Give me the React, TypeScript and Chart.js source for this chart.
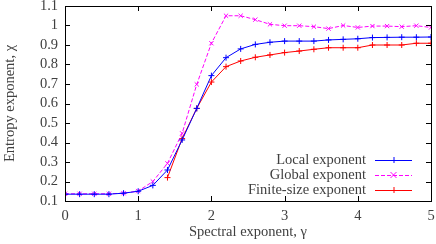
import React, { useEffect, useRef } from "react";
import { Chart, registerables } from "chart.js";

Chart.register(...registerables);

const gammas = [0, 0.2, 0.4, 0.6, 0.8, 1.0, 1.2, 1.4, 1.6, 1.8, 2.0, 2.2, 2.4, 2.6, 2.8, 3.0, 3.2, 3.4, 3.6, 3.8, 4.0, 4.2, 4.4, 4.6, 4.8, 5.0];
const localExp = [0.135, 0.135, 0.135, 0.135, 0.14, 0.15, 0.18, 0.259, 0.413, 0.575, 0.743, 0.835, 0.88, 0.903, 0.914, 0.92, 0.92, 0.92, 0.926, 0.929, 0.932, 0.938, 0.939, 0.94, 0.94, 0.941];
const globalExp = [0.137, 0.137, 0.137, 0.137, 0.14, 0.151, 0.2, 0.293, 0.447, 0.698, 0.909, 1.05, 1.05, 1.03, 1.006, 0.999, 0.999, 0.994, 0.984, 1.0, 0.99, 0.997, 0.997, 0.994, 0.999, 0.99];
const finiteGammas = [1.4, 1.6, 1.8, 2.0, 2.2, 2.4, 2.6, 2.8, 3.0, 3.2, 3.4, 3.6, 3.8, 4.0, 4.2, 4.4, 4.6, 4.8, 5.0];
const finiteExp = [0.22, 0.42, 0.575, 0.71, 0.789, 0.818, 0.837, 0.849, 0.861, 0.869, 0.878, 0.886, 0.886, 0.886, 0.9, 0.9, 0.9, 0.909, 0.909];
const xTicks = [0, 1, 2, 3, 4, 5];
const yTicks = [0.1, 0.2, 0.3, 0.4, 0.5, 0.6, 0.7, 0.8, 0.9, 1, 1.1];

const FONT = "'Liberation Serif', serif";
const TEXT = "#404040";
const FS = 14.5;

const frameAndLegend = {
  id: "frameAndLegend",
  afterDraw(chart: any) {
    const { ctx, chartArea: a, scales } = chart;
    ctx.save();
    ctx.strokeStyle = "#000";
    ctx.lineWidth = 1;
    const tl = 5;
    ctx.beginPath();
    for (const v of xTicks) {
      const x = Math.round(scales.x.getPixelForValue(v)) + 0.5;
      ctx.moveTo(x, a.bottom); ctx.lineTo(x, a.bottom - tl);
      ctx.moveTo(x, a.top); ctx.lineTo(x, a.top + tl);
    }
    for (const v of yTicks) {
      const y = Math.round(scales.y.getPixelForValue(v)) + 0.5;
      ctx.moveTo(a.left, y); ctx.lineTo(a.left + tl, y);
      ctx.moveTo(a.right, y); ctx.lineTo(a.right - tl, y);
    }
    ctx.stroke();
    ctx.strokeRect(Math.round(a.left) + 0.5, Math.round(a.top) + 0.5, Math.round(a.right - a.left), Math.round(a.bottom - a.top));

    // legend (inside, bottom right)
    ctx.font = FS + "px " + FONT;
    ctx.textAlign = "right";
    ctx.textBaseline = "middle";
    const rowH = 15;
    const lineR = a.right - 19;
    const lineL = lineR - 37;
    const textR = lineL - 9;
    const baseY = a.bottom - 11;
    const ds = chart.data.datasets;
    ds.forEach((d: any, i: number) => {
      const y = baseY - (ds.length - 1 - i) * rowH;
      ctx.fillStyle = TEXT;
      ctx.fillText(d.label, textR, y);
      ctx.strokeStyle = d.borderColor;
      ctx.lineWidth = 1;
      ctx.setLineDash(d.borderDash || []);
      ctx.beginPath();
      ctx.moveTo(lineL, y + 0.5); ctx.lineTo(lineR, y + 0.5);
      ctx.stroke();
      ctx.setLineDash([]);
      const mx = (lineL + lineR) / 2;
      const r = 3;
      ctx.beginPath();
      if (d.pointStyle === "crossRot") {
        ctx.moveTo(mx - r, y - r); ctx.lineTo(mx + r, y + r);
        ctx.moveTo(mx + r, y - r); ctx.lineTo(mx - r, y + r);
      } else {
        ctx.moveTo(mx - r, y + 0.5); ctx.lineTo(mx + r, y + 0.5);
        ctx.moveTo(mx + 0.5, y - r); ctx.lineTo(mx + 0.5, y + r);
      }
      ctx.stroke();
    });
    ctx.restore();
  },
};

export default function App() {
  const ref = useRef<HTMLCanvasElement>(null);
  useEffect(() => {
    const chart = new Chart(ref.current!, {
      type: "line",
      data: {
        datasets: [
          {
            label: "Local exponent",
            data: gammas.map((g, i) => ({ x: g, y: localExp[i] })),
            borderColor: "#0000ff",
            backgroundColor: "#0000ff",
            borderWidth: 1,
            pointStyle: "cross",
            pointRadius: 3,
            pointBorderWidth: 1,
          },
          {
            label: "Global exponent",
            data: gammas.map((g, i) => ({ x: g, y: globalExp[i] })),
            borderColor: "#ff00ff",
            backgroundColor: "#ff00ff",
            borderWidth: 1,
            borderDash: [4, 2],
            pointStyle: "crossRot",
            pointRadius: 3,
            pointBorderWidth: 1,
          },
          {
            label: "Finite-size exponent",
            data: finiteGammas.map((g, i) => ({ x: g, y: finiteExp[i] })),
            borderColor: "#ff0000",
            backgroundColor: "#ff0000",
            borderWidth: 1,
            pointStyle: "cross",
            pointRadius: 3,
            pointBorderWidth: 1,
          },
        ],
      },
      options: {
        animation: false,
        responsive: true,
        maintainAspectRatio: false,
        layout: { padding: { top: 6, right: 5, left: 0, bottom: 0 } },
        plugins: { legend: { display: false }, tooltip: { enabled: false } },
        scales: {
          x: {
            type: "linear",
            min: 0,
            max: 5,
            afterBuildTicks: (s: any) => { s.ticks = xTicks.map((v) => ({ value: v })); },
            afterFit: (s: any) => { s.height = 43; s.paddingLeft = 0; s.paddingRight = 0; },
            grid: { display: false, drawTicks: false },
            border: { display: false },
            ticks: { color: TEXT, font: { family: FONT, size: FS }, padding: 6, maxRotation: 0, autoSkip: false },
            title: { display: true, text: "Spectral exponent, γ", color: TEXT, font: { family: FONT, size: FS }, padding: { top: 1, bottom: 3 } },
          },
          y: {
            type: "linear",
            min: 0.1,
            max: 1.1,
            afterBuildTicks: (s: any) => { s.ticks = yTicks.map((v) => ({ value: v })); },
            afterFit: (s: any) => { s.width = 65; s.paddingTop = 0; s.paddingBottom = 0; },
            grid: { display: false, drawTicks: false },
            border: { display: false },
            ticks: { color: TEXT, font: { family: FONT, size: FS }, padding: 7, autoSkip: false, callback: (v: any) => String(Math.round(v * 10) / 10) },
            title: { display: true, text: "Entropy exponent, χ", color: TEXT, font: { family: FONT, size: FS }, padding: { top: 1, bottom: 4 } },
          },
        },
      },
      plugins: [frameAndLegend],
    } as any);
    return () => chart.destroy();
  }, []);
  return (
    <div style={{ position: "fixed", left: 0, top: 0, width: 436, height: 244, background: "#fff" }}>
      <canvas ref={ref} />
    </div>
  );
}
